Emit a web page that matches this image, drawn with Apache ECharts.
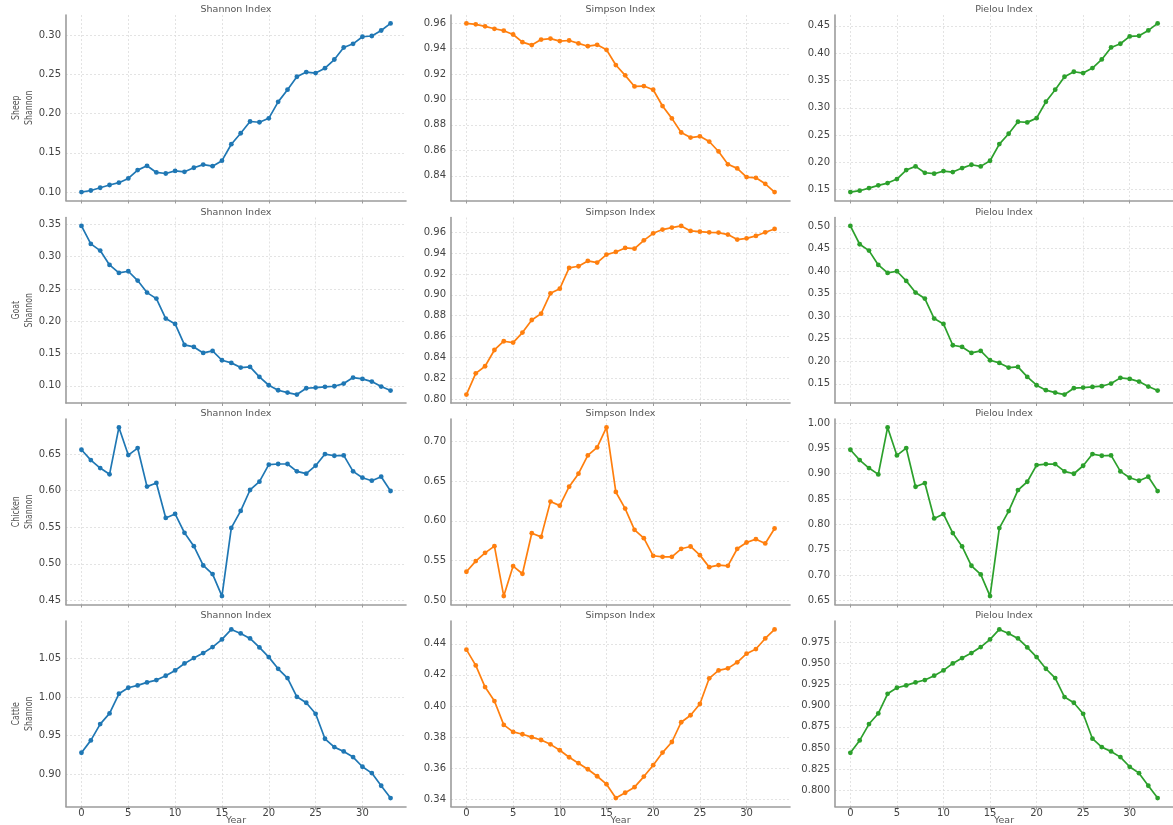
<!DOCTYPE html>
<html>
<head>
<meta charset="utf-8">
<script src="https://cdn.jsdelivr.net/npm/echarts@6/dist/echarts.min.js"></script>
<style>
html, body { margin: 0; padding: 0; background: #ffffff; }
#chart { width: 1173px; height: 825px; }
</style>
</head>
<body>
<div id="chart"></div>
<script>
// ---- data ----
const years = [0,1,2,3,4,5,6,7,8,9,10,11,12,13,14,15,16,17,18,19,20,21,22,23,24,25,26,27,28,29,30,31,32,33];
const animals = ['Sheep', 'Goat', 'Chicken', 'Cattle'];
const indexNames = ['Shannon Index', 'Simpson Index', 'Pielou Index'];
const yearTicks = ['0', '5', '10', '15', '20', '25', '30'];

const sheepShannon = [0.100,0.102,0.1055,0.109,0.112,0.1174,0.128,0.1335,0.125,0.1237,0.127,0.1258,0.131,0.135,0.133,0.140,0.161,0.175,0.190,0.189,0.194,0.215,0.2305,0.247,0.253,0.2517,0.258,0.269,0.2843,0.289,0.298,0.299,0.306,0.315];
const sheepSimpson = [0.9597,0.959,0.9574,0.9555,0.954,0.951,0.945,0.9427,0.947,0.9478,0.9458,0.9463,0.944,0.9418,0.9429,0.939,0.927,0.9189,0.9102,0.9105,0.9076,0.8948,0.8851,0.874,0.870,0.871,0.8669,0.8591,0.849,0.8458,0.839,0.8384,0.8337,0.8272];
const sheepPielou = [0.1457,0.1482,0.153,0.158,0.1622,0.1695,0.186,0.1927,0.181,0.1793,0.1841,0.1823,0.1896,0.1957,0.1927,0.203,0.2335,0.2524,0.2744,0.2732,0.281,0.311,0.333,0.3567,0.3659,0.3634,0.3726,0.3884,0.4104,0.4171,0.4305,0.4317,0.4415,0.4543];

const goatShannon = [0.3474,0.3196,0.3093,0.2871,0.2747,0.2773,0.2629,0.2443,0.235,0.2041,0.1959,0.1634,0.1603,0.151,0.1541,0.1397,0.1356,0.1284,0.1294,0.1139,0.101,0.0933,0.0897,0.0866,0.0964,0.0974,0.0985,0.0995,0.1036,0.1129,0.1108,0.1067,0.099,0.0928];
const goatSimpson = [0.8042,0.8246,0.8314,0.847,0.8554,0.8541,0.8637,0.8758,0.8819,0.9014,0.9059,0.9258,0.9274,0.9325,0.9309,0.9386,0.9411,0.945,0.9443,0.9523,0.959,0.9626,0.9645,0.9661,0.9613,0.9606,0.96,0.9597,0.9578,0.953,0.9542,0.9565,0.96,0.9632];
const goatPielou = [0.500,0.4594,0.4453,0.4136,0.3959,0.3996,0.3782,0.3523,0.339,0.2947,0.2829,0.2356,0.2319,0.2186,0.2231,0.2024,0.1965,0.1862,0.1876,0.1655,0.147,0.136,0.1307,0.1263,0.1404,0.1418,0.1433,0.1448,0.1507,0.1633,0.161,0.1551,0.144,0.1352];

const chickenShannon = [0.6559,0.6418,0.6309,0.6223,0.6864,0.6486,0.6582,0.6055,0.6105,0.5627,0.5682,0.5423,0.5241,0.4977,0.4859,0.4559,0.5491,0.5723,0.6009,0.6123,0.6355,0.6364,0.6364,0.6264,0.6232,0.6341,0.65,0.6477,0.6482,0.6264,0.6177,0.6136,0.6191,0.5995];
const chickenSimpson = [0.536,0.5494,0.5598,0.5682,0.5054,0.5431,0.5335,0.5845,0.5799,0.6243,0.6192,0.6431,0.6594,0.6824,0.6925,0.7176,0.6364,0.6155,0.5887,0.5782,0.5561,0.5548,0.5548,0.5649,0.5678,0.5569,0.5418,0.5444,0.5435,0.5649,0.5728,0.577,0.5716,0.5904];
const chickenPielou = [0.9474,0.927,0.9112,0.8987,0.9914,0.9362,0.9507,0.8743,0.8816,0.8118,0.8204,0.7829,0.7566,0.7184,0.7013,0.6586,0.7928,0.8263,0.8678,0.8842,0.9171,0.9191,0.9191,0.9046,0.9,0.9158,0.9388,0.9355,0.9362,0.9046,0.8921,0.8862,0.8941,0.8658];

const cattleShannon = [0.928,0.944,0.9651,0.9789,1.0043,1.0121,1.0151,1.019,1.022,1.0276,1.0345,1.0435,1.0504,1.0569,1.0647,1.0746,1.0875,1.0823,1.0759,1.0642,1.0517,1.0366,1.0246,1.0004,0.9927,0.9784,0.9461,0.9353,0.9297,0.9224,0.9099,0.9017,0.8853,0.8694];
const cattleSimpson = [0.4362,0.4261,0.4122,0.4032,0.3879,0.3834,0.3819,0.38,0.3782,0.3754,0.3716,0.3671,0.3633,0.3594,0.3549,0.3498,0.3409,0.3443,0.3479,0.3547,0.362,0.3701,0.3769,0.3896,0.3941,0.4013,0.4178,0.4229,0.4242,0.4281,0.4336,0.4366,0.4434,0.4492];
const cattlePielou = [0.8444,0.859,0.8783,0.8908,0.914,0.9211,0.9239,0.9274,0.9302,0.9353,0.9416,0.9498,0.9561,0.962,0.9691,0.9781,0.9899,0.9852,0.9793,0.9687,0.9573,0.9435,0.9325,0.9101,0.9034,0.8904,0.861,0.8511,0.846,0.8393,0.8279,0.8204,0.8055,0.791];

// y tick labels, one list per panel
const sheepShannonTicks = ['0.10','0.15','0.20','0.25','0.30'];
const sheepSimpsonTicks = ['0.84','0.86','0.88','0.90','0.92','0.94','0.96'];
const sheepPielouTicks = ['0.15','0.20','0.25','0.30','0.35','0.40','0.45'];
const goatShannonTicks = ['0.10','0.15','0.20','0.25','0.30','0.35'];
const goatSimpsonTicks = ['0.80','0.82','0.84','0.86','0.88','0.90','0.92','0.94','0.96'];
const goatPielouTicks = ['0.15','0.20','0.25','0.30','0.35','0.40','0.45','0.50'];
const chickenShannonTicks = ['0.45','0.50','0.55','0.60','0.65'];
const chickenSimpsonTicks = ['0.50','0.55','0.60','0.65','0.70'];
const chickenPielouTicks = ['0.65','0.70','0.75','0.80','0.85','0.90','0.95','1.00'];
const cattleShannonTicks = ['0.90','0.95','1.00','1.05'];
const cattleSimpsonTicks = ['0.34','0.36','0.38','0.40','0.42','0.44'];
const cattlePielouTicks = ['0.800','0.825','0.850','0.875','0.900','0.925','0.950','0.975'];

// ---- panel table (row = animal, column = index) ----
const panelValues = [
  [sheepShannon, sheepSimpson, sheepPielou],
  [goatShannon, goatSimpson, goatPielou],
  [chickenShannon, chickenSimpson, chickenPielou],
  [cattleShannon, cattleSimpson, cattlePielou]
];
const panelTicks = [
  [sheepShannonTicks, sheepSimpsonTicks, sheepPielouTicks],
  [goatShannonTicks, goatSimpsonTicks, goatPielouTicks],
  [chickenShannonTicks, chickenSimpsonTicks, chickenPielouTicks],
  [cattleShannonTicks, cattleSimpsonTicks, cattlePielouTicks]
];

// ---- layout & style ----
const colLeft = [66, 451, 835];
const colWidth = [340, 339, 338];
const rowTop = [15, 217.5, 419, 621];
const rowHeight = 185.5;
const lineColors = ['#1f77b4', '#ff7f0e', '#2ca02c'];
const textColor = '#444444';
const softText = '#555555';
const spineColor = '#9c9c9c';
const gridColor = '#dcdcdc';
const FONT = 'DejaVu Sans';

// autoscale with a 5% margin on each side
function paddedRange(arr) {
  const lo = Math.min.apply(null, arr), hi = Math.max.apply(null, arr);
  const pad = (hi - lo) * 0.05;
  return [lo - pad, hi + pad];
}
const xRange = paddedRange(years);
const xTickValues = yearTicks.map(Number);

const grids = [], xAxes = [], yAxes = [], series = [], titles = [], graphics = [];

for (let r = 0; r < 4; r++) {
  for (let c = 0; c < 3; c++) {
    const i = r * 3 + c;
    const vals = panelValues[r][c];
    const ticks = panelTicks[r][c];
    const tickValues = ticks.map(Number);
    const yr = paddedRange(vals);
    const isBottom = r === 3;

    grids.push({
      left: colLeft[c], top: rowTop[r], width: colWidth[c], height: rowHeight,
      containLabel: false, outerBoundsMode: 'none'
    });

    xAxes.push({
      type: 'value', gridIndex: i, min: xRange[0], max: xRange[1],
      name: isBottom ? 'Year' : '',
      nameLocation: 'middle', nameGap: 9, nameMoveOverlap: false,
      nameTextStyle: { fontFamily: FONT, fontSize: 9.5, color: softText, lineHeight: 10 },
      axisLine: { show: true, onZero: false, lineStyle: { color: spineColor, width: 1.6 } },
      axisTick: { show: true, inside: false, length: 3, customValues: xTickValues,
                  lineStyle: { color: spineColor, width: 1 } },
      axisLabel: { show: isBottom, customValues: xTickValues, margin: 2,
                   fontFamily: FONT, fontSize: 10, color: textColor,
                   formatter: function (v) { return yearTicks[xTickValues.indexOf(v)] || String(v); } },
      splitLine: { show: true, lineStyle: { color: gridColor, width: 0.8, type: [2, 2] } }
    });

    yAxes.push({
      type: 'value', gridIndex: i, min: yr[0], max: yr[1],
      axisLine: { show: true, onZero: false, lineStyle: { color: spineColor, width: 1.6 } },
      axisTick: { show: false, customValues: tickValues },
      axisLabel: { show: true, customValues: tickValues, margin: 5,
                   fontFamily: FONT, fontSize: 10, color: textColor,
                   formatter: function (v) {
                     let k = 0, best = Infinity;
                     tickValues.forEach(function (t, j) { const d = Math.abs(t - v); if (d < best) { best = d; k = j; } });
                     return ticks[k];
                   } },
      splitLine: { show: true, lineStyle: { color: gridColor, width: 0.8, type: [2, 2] } }
    });

    series.push({
      type: 'line', xAxisIndex: i, yAxisIndex: i,
      data: years.map(function (y, j) { return [y, vals[j]]; }),
      symbol: 'circle', symbolSize: 4.8, showSymbol: true,
      lineStyle: { color: lineColors[c], width: 1.7 },
      itemStyle: { color: lineColors[c] },
      silent: true, animation: false
    });

    titles.push({
      text: indexNames[c],
      left: colLeft[c] + colWidth[c] / 2, top: rowTop[r] - 11,
      textAlign: 'center', padding: 0,
      textStyle: { fontFamily: FONT, fontSize: 9.5, fontWeight: 'normal', color: softText, lineHeight: 12 }
    });
  }

  // two-line row label on the left of the first column
  graphics.push({
    type: 'text',
    x: colLeft[0] - 43, y: rowTop[r] + rowHeight / 2,
    rotation: Math.PI / 2, scaleX: 0.78,
    style: {
      text: animals[r] + '\nShannon',
      fontFamily: FONT, fontSize: 10, lineHeight: 13,
      fill: softText, align: 'center', verticalAlign: 'middle'
    },
    silent: true
  });
}

const chart = echarts.init(document.getElementById('chart'), null, { renderer: 'canvas' });
chart.setOption({
  backgroundColor: '#ffffff',
  animation: false,
  title: titles,
  grid: grids,
  xAxis: xAxes,
  yAxis: yAxes,
  series: series,
  graphic: { elements: graphics }
});
</script>
</body>
</html>
